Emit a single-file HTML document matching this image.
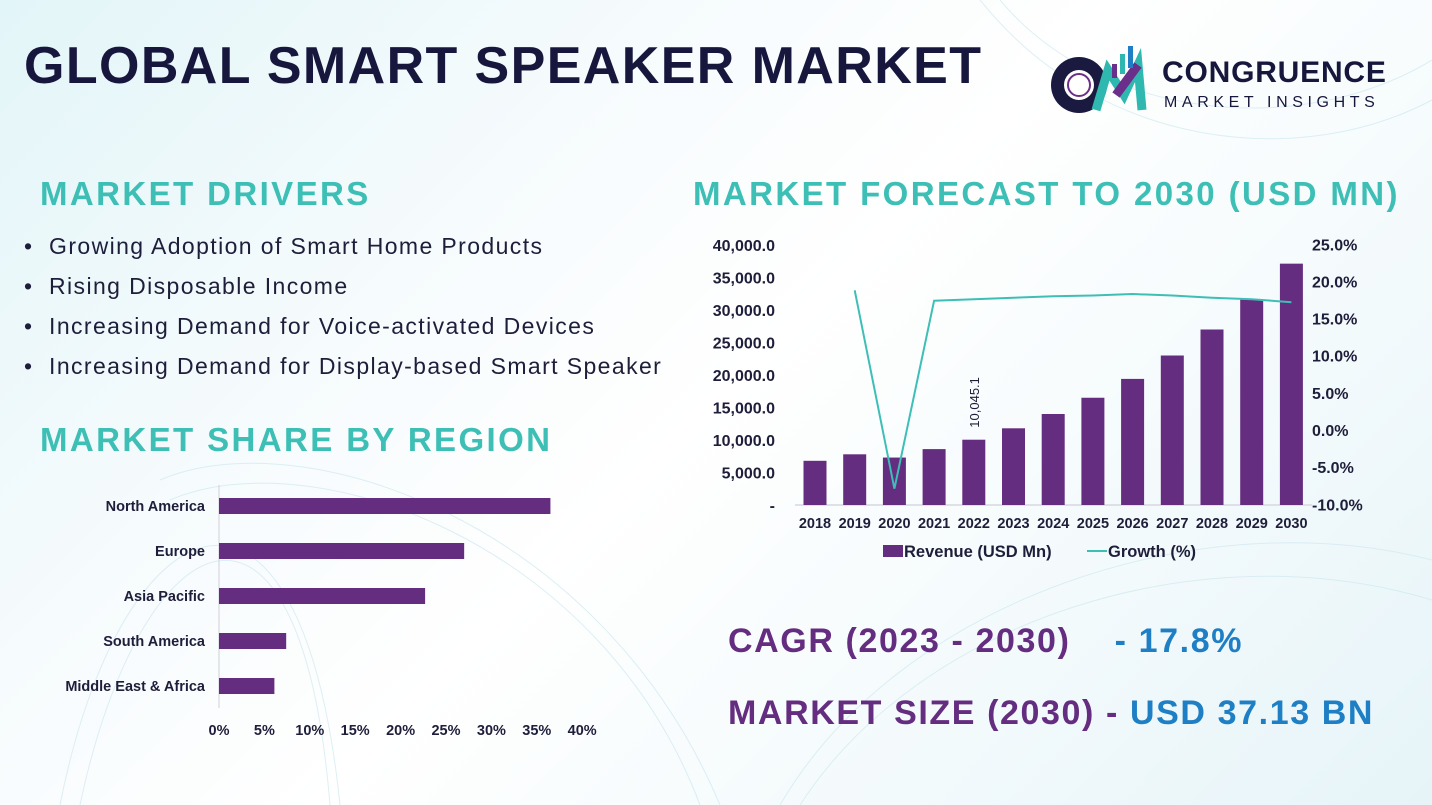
<!DOCTYPE html>
<html><head><meta charset="utf-8">
<style>
*{margin:0;padding:0;box-sizing:border-box}
body{width:1432px;height:805px;overflow:hidden;font-family:"Liberation Sans",sans-serif;position:relative;
background:linear-gradient(135deg,#e2f5f8 0%,#f6fbfd 30%,#ffffff 50%,#f3fafc 75%,#e6f4f8 100%);}
.abs{position:absolute}
.title{left:24px;top:36px;font-size:52px;font-weight:bold;color:#17173d;letter-spacing:1.4px;white-space:nowrap}
.h2{font-size:33px;font-weight:bold;color:#3dbfb6;white-space:nowrap;letter-spacing:2.4px}
.bul{left:24px;font-size:23px;color:#1e1e3a;white-space:nowrap;letter-spacing:1.4px}
.big{font-size:34px;font-weight:bold;white-space:nowrap;letter-spacing:1.6px}
</style></head><body>
<svg class="abs" style="left:0;top:0" width="1432" height="805">
<g fill="none" stroke="#cfe9ef" stroke-width="1" opacity="0.7">
<path d="M60 805 C 120 500, 300 420, 340 805"/><path d="M80 805 C 140 520, 300 440, 330 805"/>
<path d="M160 480 C 300 420, 600 520, 720 805"/><path d="M170 500 C 310 440, 600 540, 700 805"/>
<path d="M780 805 C 900 600, 1200 500, 1432 560"/><path d="M800 805 C 920 620, 1200 530, 1432 600"/>
<path d="M1000 0 C 1100 120, 1300 140, 1432 60"/><path d="M980 0 C 1100 150, 1300 170, 1432 100"/>
</g></svg>

<div class="abs title">GLOBAL SMART SPEAKER MARKET</div>

<div class="abs" style="left:1046px;top:40px;width:360px;height:80px">
<svg width="110" height="80" style="position:absolute;left:0;top:0">
<circle cx="33" cy="45" r="28" fill="#1a1a40"/><circle cx="33" cy="45" r="15" fill="#fff"/>
<circle cx="33" cy="45" r="11" fill="none" stroke="#6a2f8a" stroke-width="2"/>
<path d="M50 70 L62 30 L78 55 L92 25 L96 70" fill="none" stroke="#2fb8b0" stroke-width="9"/>
<path d="M70 55 L92 25" stroke="#6a2f8a" stroke-width="9"/>
<rect x="66" y="24" width="5" height="14" fill="#6a2f8a"/><rect x="74" y="14" width="5" height="20" fill="#2fb8b0"/><rect x="82" y="6" width="5" height="22" fill="#1e7fc4"/>
</svg>
<div class="abs" style="left:116px;top:16px;font-size:30px;font-weight:900;color:#17173d;white-space:nowrap;letter-spacing:0.8px">CONGRUENCE</div>
<div class="abs" style="left:118px;top:54px;font-size:16px;color:#17173d;letter-spacing:4.6px;white-space:nowrap">MARKET INSIGHTS</div>
</div>

<div class="abs h2" style="left:40px;top:175px">MARKET DRIVERS</div>
<div class="abs bul" style="top:233px">•&nbsp; Growing Adoption of Smart Home Products</div>
<div class="abs bul" style="top:273px">•&nbsp; Rising Disposable Income</div>
<div class="abs bul" style="top:313px">•&nbsp; Increasing Demand for Voice-activated Devices</div>
<div class="abs bul" style="top:353px">•&nbsp; Increasing Demand for Display-based Smart Speaker</div>

<div class="abs h2" style="left:40px;top:421px">MARKET SHARE BY REGION</div>
<div class="abs h2" style="left:693px;top:175px">MARKET FORECAST TO 2030 (USD MN)</div>

<div class="abs big" style="left:728px;top:622px;color:#642d80">CAGR (2023 - 2030)&nbsp;&nbsp;&nbsp;&nbsp;<span style="color:#1e7fc4">- 17.8%</span></div>
<div class="abs big" style="left:728px;top:694px;color:#642d80">MARKET SIZE (2030) - <span style="color:#1e7fc4">USD 37.13 BN</span></div>

<svg id="hbar" class="abs" style="left:0;top:0" width="1432" height="805"></svg>
<svg id="combo" class="abs" style="left:0;top:0" width="1432" height="805"></svg>

<script>
const regions=["North America","Europe","Asia Pacific","South America","Middle East & Africa"];
const regionShare=[36.5,27.0,22.7,7.4,6.1];
const shareTicks=[0,5,10,15,20,25,30,35,40];

const years=["2018","2019","2020","2021","2022","2023","2024","2025","2026","2027","2028","2029","2030"];
const revenue=[6800,7800,7300,8600,10045.1,11800,14000,16500,19400,23000,27000,31600,37130];
const growth=[null,18.8,-7.9,17.4,17.6,17.8,18.0,18.1,18.3,18.1,17.8,17.6,17.2];
const revTicks=[0,5000,10000,15000,20000,25000,30000,35000,40000];
const growthTicks=[-10,-5,0,5,10,15,20,25];

const NS="http://www.w3.org/2000/svg";
function mk(p,tag,attrs,txt){const e=document.createElementNS(NS,tag);for(const k in attrs)e.setAttribute(k,attrs[k]);if(txt!==undefined)e.textContent=txt;p.appendChild(e);return e;}

const h=document.getElementById('hbar');
const hx=v=>219+v*9.08;
const hy=i=>506+i*45;
mk(h,'line',{x1:219,y1:485,x2:219,y2:708,stroke:'#d0d0d8','stroke-width':1});
regions.forEach((r,i)=>{
  const b=mk(h,'rect',{x:hx(0),y:hy(i)-8,width:hx(regionShare[i])-hx(0),height:16,fill:'#652d80'});
  
  
  const t=mk(h,'text',{x:205,y:hy(i)+5,'text-anchor':'end','font-size':14.5,'font-weight':'bold',fill:'#1e1e3a'},r);
  
  
});
shareTicks.forEach(v=>{
  const t=mk(h,'text',{x:hx(v),y:735,'text-anchor':'middle','font-size':14.5,'font-weight':'bold',fill:'#1e1e3a'},v+'%');
  
  
});

const c=document.getElementById('combo');
const cx=i=>815+i*39.7;
const ry=v=>505-v*0.0065;
const gy=v=>430-v*7.43;
mk(c,'line',{x1:795,y1:505,x2:1312,y2:505,stroke:'#d8d8e0','stroke-width':1.5});
revTicks.forEach(v=>{
  const lab=v===0?'-':v.toLocaleString('en-US')+'.0';
  const t=mk(c,'text',{x:775,y:ry(v)+6,'text-anchor':'end','font-size':16,'font-weight':'bold',fill:'#1e1e3a'},lab);
  
  
});
growthTicks.forEach(v=>{
  const t=mk(c,'text',{x:1312,y:gy(v)+6,'font-size':16,'font-weight':'bold',fill:'#1e1e3a'},v.toFixed(1)+'%');
  
  
});
years.forEach((y,i)=>{
  const b=mk(c,'rect',{x:cx(i)-11.5,y:ry(revenue[i]),width:23,height:ry(0)-ry(revenue[i]),fill:'#652d80'});
  
  
  const t=mk(c,'text',{x:cx(i),y:528,'text-anchor':'middle','font-size':14.5,'font-weight':'bold',fill:'#1e1e3a'},y);
  
  
});
const li=4;
const dl=mk(c,'text',{x:0,y:0,'font-size':13,fill:'#1e1e3a',transform:`translate(${cx(li)+5},${ry(revenue[li])-12}) rotate(-90)`},revenue[li].toLocaleString('en-US',{minimumFractionDigits:1}));


let pts=[];growth.forEach((g,i)=>{if(g!==null)pts.push(cx(i)+','+gy(g));});
const pl=mk(c,'polyline',{points:pts.join(' '),fill:'none',stroke:'#3dbfb6','stroke-width':2});


const lg=mk(c,'g',{});


mk(lg,'rect',{x:883,y:545,width:20,height:12,fill:'#652d80'});
mk(lg,'text',{x:904,y:557,'font-size':16.5,'font-weight':'bold',fill:'#1e1e3a'},'Revenue (USD Mn)');
mk(lg,'line',{x1:1087,y1:551,x2:1107,y2:551,stroke:'#3dbfb6','stroke-width':2});
mk(lg,'text',{x:1108,y:557,'font-size':16.5,'font-weight':'bold',fill:'#1e1e3a'},'Growth (%)');
</script>
</body></html>
